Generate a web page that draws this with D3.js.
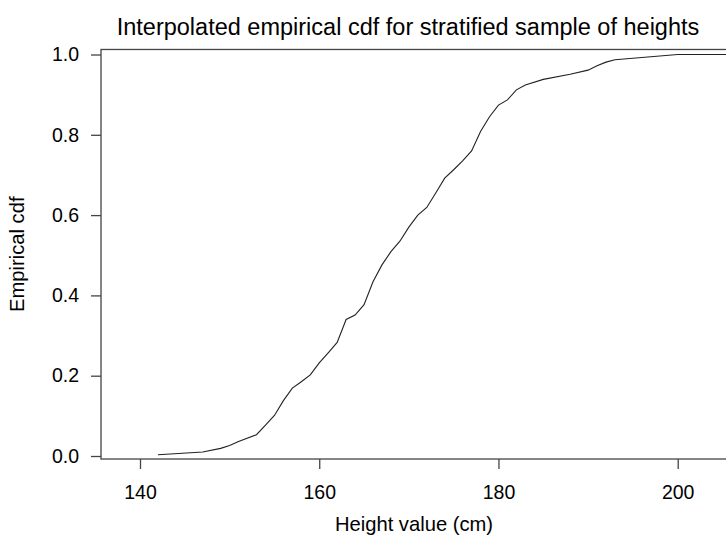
<!DOCTYPE html>
<html>
<head>
<meta charset="utf-8">
<script src="https://cdn.jsdelivr.net/npm/d3@7"></script>
<style>
  html, body { margin: 0; padding: 0; background: #fff; }
  svg { display: block; }
  text { font-family: "Liberation Sans", Arial, sans-serif; fill: #000; }
</style>
</head>
<body>
<svg id="chart" width="726" height="541"></svg>
<script>
// Interpolated empirical CDF knots: height (cm) and cumulative proportion
const heights = [142, 147, 149, 150, 151, 153, 154, 155, 156, 157, 158, 159, 160,
  161, 162, 163, 164, 165, 166, 167, 168, 169, 170, 171, 172, 173, 174, 175, 176,
  177, 178, 179, 180, 181, 182, 183, 185, 188, 190, 191, 192, 193, 200, 210];
const cdfValues = [0.003, 0.010, 0.019, 0.026, 0.036, 0.053, 0.077, 0.101, 0.138,
  0.169, 0.185, 0.202, 0.232, 0.257, 0.283, 0.340, 0.351, 0.377, 0.434, 0.476,
  0.509, 0.535, 0.570, 0.600, 0.619, 0.655, 0.692, 0.713, 0.735, 0.760, 0.808,
  0.845, 0.874, 0.887, 0.912, 0.924, 0.938, 0.951, 0.961, 0.972, 0.981, 0.987,
  1.000, 1.000];
const xTicks = [140, 160, 180, 200];
const yTicks = [0.0, 0.2, 0.4, 0.6, 0.8, 1.0];

const titleText = "Interpolated empirical cdf for stratified sample of heights";
const xLabel = "Height value (cm)";
const yLabel = "Empirical cdf";

const svg = d3.select("#chart");

// Plot region limits in data units
const xLim = [135.65, 207.8];
const yLim = [-0.0075, 1.0125];

const x = d3.scaleLinear().domain([140, 200]).range([140, 677.7]);
const y = d3.scaleLinear().domain([0, 1]).range([456, 54.5]);

const boxLeft = x(xLim[0]), boxRight = x(xLim[1]);
const boxTop = y(yLim[1]), boxBottom = y(yLim[0]);

// Frame around the plotting region
svg.append("rect")
  .attr("x", boxLeft).attr("y", boxTop)
  .attr("width", boxRight - boxLeft).attr("height", boxBottom - boxTop)
  .attr("fill", "none").attr("stroke", "#444").attr("stroke-width", 1.3);

// Axes with ticks hanging outside the frame
const xAxis = d3.axisBottom(x).tickValues(xTicks).tickSize(10).tickPadding(16)
  .tickFormat(d3.format("d"));
const gx = svg.append("g").attr("transform", `translate(0,${boxBottom})`).call(xAxis);
gx.select(".domain").remove();
gx.selectAll(".tick line").attr("stroke", "#444").attr("stroke-width", 1.3);
gx.selectAll(".tick text").attr("font-size", 19.5)
  .attr("font-family", "Liberation Sans, Arial, sans-serif");

const yAxis = d3.axisLeft(y).tickValues(yTicks).tickSize(10).tickPadding(12)
  .tickFormat(d3.format(".1f"));
const gy = svg.append("g").attr("transform", `translate(${boxLeft},0)`).call(yAxis);
gy.select(".domain").remove();
gy.selectAll(".tick line").attr("stroke", "#444").attr("stroke-width", 1.3);
gy.selectAll(".tick text").attr("font-size", 19.5)
  .attr("font-family", "Liberation Sans, Arial, sans-serif");

// CDF curve
const line = d3.line().x((d, i) => x(heights[i])).y(d => y(d));
svg.append("path")
  .datum(cdfValues)
  .attr("d", line)
  .attr("fill", "none")
  .attr("stroke", "#222")
  .attr("stroke-width", 1.1);

// Titles
svg.append("text")
  .attr("x", 408).attr("y", 35)
  .attr("text-anchor", "middle").attr("font-size", 23.5)
  .text(titleText);

svg.append("text")
  .attr("x", 414).attr("y", 531)
  .attr("text-anchor", "middle").attr("font-size", 20.2)
  .text(xLabel);

svg.append("text")
  .attr("transform", `translate(24,${(boxTop + boxBottom) / 2}) rotate(-90)`)
  .attr("text-anchor", "middle").attr("font-size", 20.2)
  .text(yLabel);
</script>
</body>
</html>
